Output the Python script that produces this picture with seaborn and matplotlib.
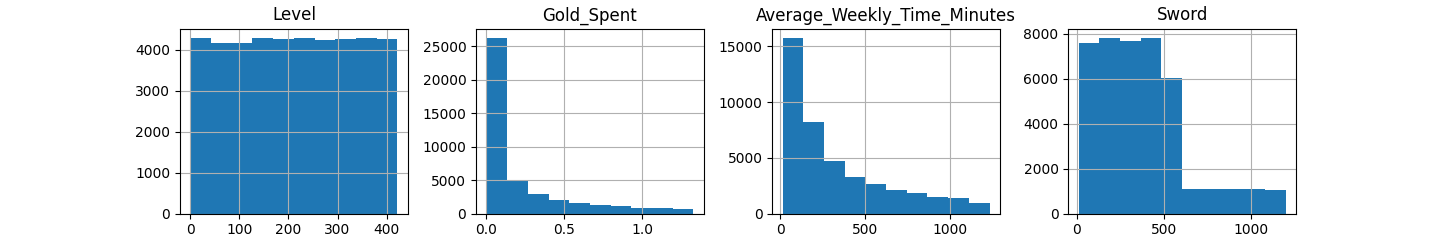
import numpy as np
import pandas as pd
import matplotlib
matplotlib.use("Agg")
import matplotlib.pyplot as plt
import seaborn as sns

titles = ["Level", "Gold_Spent", "Average_Weekly_Time_Minutes", "Sword"]

level_range = [0, 422]
level_counts = [4293, 4163, 4163, 4293, 4252, 4293, 4228, 4252, 4293, 4252]

gold_range = [0.0, 1.33]
gold_counts = [26300, 4840, 2994, 2096, 1647, 1347, 1198, 898, 898, 749]

time_range = [12, 1236]
time_counts = [15778, 8174, 4760, 3323, 2695, 2126, 1886, 1527, 1437, 988]

sword_range = [10, 1202]
sword_counts = [7570, 7822, 7688, 7822, 6041, 1098, 1098, 1098, 1098, 1054]

ranges = [level_range, gold_range, time_range, sword_range]
counts = [level_counts, gold_counts, time_counts, sword_counts]

fig, axes = plt.subplots(1, 4, figsize=(14.4, 2.4), dpi=100)
fig.subplots_adjust(wspace=0.3)

for ax, title, rng, cnt in zip(axes, titles, ranges, counts):
    edges = np.linspace(rng[0], rng[1], len(cnt) + 1)
    centers = (edges[:-1] + edges[1:]) / 2
    df = pd.DataFrame({"value": centers, "count": np.asarray(cnt, dtype=float)})
    sns.histplot(data=df, x="value", weights="count", bins=edges.tolist(), ax=ax,
                 color="#1f77b4", alpha=1, edgecolor="none", linewidth=0)
    ax.set_title(title)
    ax.set_xlabel("")
    ax.set_ylabel("")
    ax.grid(True)

fig.savefig("out.png", dpi=100)
